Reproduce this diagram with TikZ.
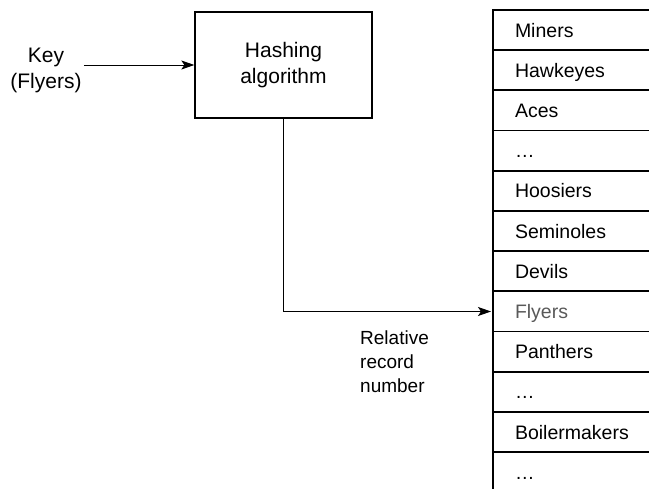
\documentclass[tikz,border=0pt]{standalone}
\usepackage{fontspec}
\setmainfont{Liberation Sans}
\usetikzlibrary{arrows.meta, positioning}

\begin{document}
\begin{tikzpicture}[
        x = 1pt, y = 1pt,
        node distance = 0pt,
        txt/.style = {align=center, inner sep=2pt, font=\fontsize{21}{26}\selectfont},
        hashbox/.style = {draw, rectangle, line width=1.3pt, minimum width=177pt, minimum height=106pt, align=center, font=\fontsize{21}{26}\selectfont},
        slot/.style = {draw, rectangle, line width=1.8pt, outer sep=0pt, minimum height=40.2pt, text width=116pt, text height=15pt, text depth=1pt, inner xsep=22pt, inner ysep=0pt, align=left, font=\fontsize{19.5}{23}\selectfont},
        arrow/.style = {draw, line width=0.9pt, -{Stealth[length=13pt, width=9pt, inset=3pt]}}
    ]

        % Page frame
        \useasboundingbox (0,0) rectangle (649,-489);

        % Key and hashing box
        \node (key) [txt] at (46,-70) {Key\\(Flyers)};
        \node (hash) [hashbox] at (283.5,-65) {Hashing\\algorithm};

        % Table of records
        \node (r1) [slot, anchor=north west] at (493,-10) {Miners};
        \node (r2) [slot, below=of r1] {Hawkeyes};
        \node (r3) [slot, below=of r2] {Aces};
        \node (r4) [slot, below=of r3] {\dots};
        \node (r5) [slot, below=of r4] {Hoosiers};
        \node (r6) [slot, below=of r5] {Seminoles};
        \node (r7) [slot, below=of r6] {Devils};
        \node (r8) [slot, below=of r7, text=black!65] {Flyers};
        \node (r9) [slot, below=of r8] {Panthers};
        \node (r10) [slot, below=of r9] {\dots};
        \node (r11) [slot, below=of r10] {Boilermakers};
        \node (r12) [slot, below=of r11] {\dots};

        % Label under the arrow
        \node (rrn) [anchor=north west, align=left, inner sep=0pt, font=\fontsize{19}{24}\selectfont] at (360,-331) {Relative\\record\\number};

        % Arrows
        \draw [arrow] (key.east |- hash.west) -- (hash.west);
        \draw [arrow, shorten >=2pt] (hash.south) |- (r8.west);

\end{tikzpicture}
\end{document}
